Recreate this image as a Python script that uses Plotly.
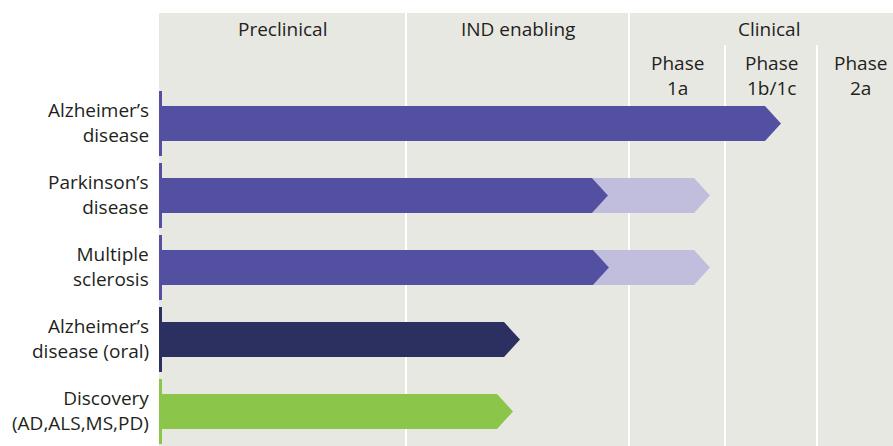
import plotly.graph_objects as go

# ---------------- data ----------------
programs = ["Alzheimer’s<br>disease", "Parkinson’s<br>disease", "Multiple<br>sclerosis",
            "Alzheimer’s<br>disease (oral)", "Discovery<br>(AD,ALS,MS,PD)"]
# progress along the pipeline scale (0 = start of Preclinical): end of straight part of bar
achieved_end = [606, 433, 434, 345, 338]
planned_end = [None, 535, 535, None, None]
bar_colors = ["#5450a1", "#5450a1", "#5450a1", "#2b3060", "#8bc54a"]
planned_color = "#c0bddd"

stage_names = ["Preclinical", "IND enabling", "Clinical"]
stage_bounds = [0, 247, 470, 750]          # on the pipeline scale
phase_names = ["Phase<br>1a", "Phase<br>1b/1c", "Phase<br>2a"]
phase_bounds = [470, 566, 658, 744]

# ---------------- layout constants ----------------
ROW0, ROW_STEP = 110.5, 72
HALF_H = 17.5
HEAD = 16
TICK_HALF = 32.5
TEXT = "#231f20"
FONT = "Open Sans"
FS = 19

fig = go.Figure()

def arrow(x0, x_end, yc, color, notch=False):
    xs = [x0, x_end, x_end + HEAD, x_end, x0]
    ys = [yc - HALF_H, yc - HALF_H, yc, yc + HALF_H, yc + HALF_H]
    if notch:
        xs.append(x0 + HEAD)
        ys.append(yc)
    xs.append(xs[0]); ys.append(ys[0])
    fig.add_trace(go.Scatter(x=xs, y=ys, mode="lines", fill="toself", fillcolor=color,
                             line=dict(width=0, color=color), hoverinfo="skip", showlegend=False))

def label(text, x, yc, xref, xanchor="center", align="center", xshift=0):
    fig.add_annotation(x=x, xref=xref, y=yc, yref="y", text=text, showarrow=False,
                       xanchor=xanchor, yanchor="middle", align=align, xshift=xshift,
                       font=dict(family=FONT, size=FS, color=TEXT))

row_centers = [ROW0 + ROW_STEP * i for i in range(len(programs))]

for i, yc in enumerate(row_centers):
    if planned_end[i] is not None:
        arrow(achieved_end[i], planned_end[i], yc, planned_color, notch=True)
    arrow(0, achieved_end[i], yc, bar_colors[i])
    # left marker tick
    fig.add_shape(type="line", x0=1.5, x1=1.5, y0=yc - TICK_HALF, y1=yc + TICK_HALF,
                  xref="x", yref="y", line=dict(color=bar_colors[i], width=3), layer="above")
    label(programs[i], 0, yc - 1, "paper", xanchor="right", align="right", xshift=-8)

# column dividers
for xb in stage_bounds[1:3]:
    fig.add_shape(type="line", x0=xb, x1=xb, y0=0, y1=440, xref="x", yref="y",
                  line=dict(color="white", width=2), layer="below")
for xb in phase_bounds[1:3]:
    fig.add_shape(type="line", x0=xb, x1=xb, y0=32, y1=440, xref="x", yref="y",
                  line=dict(color="white", width=2), layer="below")

# headers
for i, name in enumerate(stage_names):
    label(name, (stage_bounds[i] + stage_bounds[i + 1]) / 2, 16, "x")
for i, name in enumerate(phase_names):
    label(name, (phase_bounds[i] + phase_bounds[i + 1]) / 2, 62.5, "x")

fig.update_layout(
    width=893, height=446,
    margin=dict(l=159, r=0, t=13, b=0),
    paper_bgcolor="white", plot_bgcolor="#e8e8e3",
    xaxis=dict(range=[0, 734], visible=False, fixedrange=True),
    yaxis=dict(range=[433, 0], visible=False, fixedrange=True),
    showlegend=False,
)

fig.write_html("out.html", config={"displayModeBar": False},
               post_script="document.body.style.margin='0';document.body.style.overflow='hidden';")
